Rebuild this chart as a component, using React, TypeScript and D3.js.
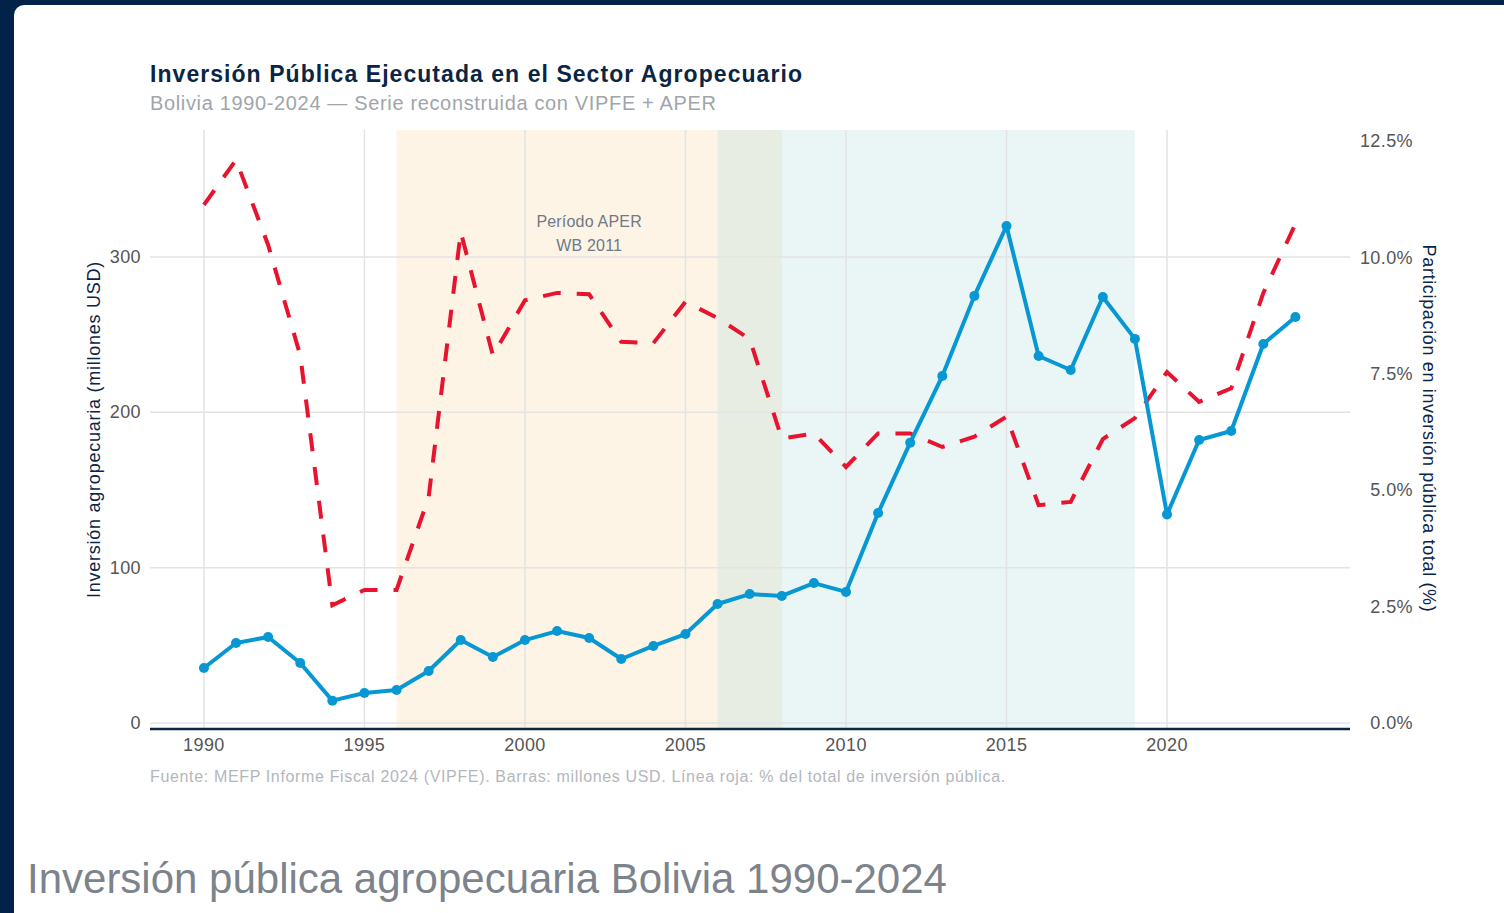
import React, { useRef, useEffect } from 'react';
import * as d3 from 'd3';

const years = d3.range(1990, 2025);

// millones USD
const investment = [
  35.4, 51.5, 55.4, 38.6, 14.4, 19.3, 21.2, 33.5, 53.4, 42.5,
  53.4, 59.2, 54.7, 41.2, 49.6, 57.3, 76.6, 83.0, 81.8, 90.1,
  84.4, 135.2, 180.5, 223.4, 275.0, 320.0, 236.3, 227.3, 274.3, 247.3,
  134.3, 182.2, 188.0, 244.0, 261.4,
];

// % de la inversión pública total
const share = [
  11.13, 12.1, 10.27, 7.9, 2.53, 2.86, 2.86, 4.85, 10.55, 7.9,
  9.08, 9.24, 9.21, 8.19, 8.16, 9.05, 8.7, 8.25, 6.11, 6.22,
  5.5, 6.22, 6.22, 5.93, 6.15, 6.58, 4.68, 4.75, 6.1, 6.55,
  7.54, 6.9, 7.19, 9.24, 10.72,
];

const xTicks = [1990, 1995, 2000, 2005, 2010, 2015, 2020];
const leftTicks = [0, 100, 200, 300];
const rightTicks = [0, 2.5, 5, 7.5, 10, 12.5];

const periods = [
  { from: 1996, to: 2008, fill: '#f9d9a6', opacity: 0.28 },
  { from: 2006, to: 2019, fill: '#b5dbe0', opacity: 0.28 },
];

const FONT = '"Liberation Sans", Arial, Helvetica, sans-serif';

const App = () => {
  const svgRef = useRef(null);

  useEffect(() => {
    const width = 1504;
    const height = 913;
    const left = 150;
    const right = 1350;
    const top = 130;
    const bottom = 723;

    const svg = d3.select(svgRef.current);
    svg.selectAll('*').remove();
    svg.attr('width', width).attr('height', height).style('font-family', FONT);

    svg.append('rect').attr('width', width).attr('height', height).attr('fill', '#03224a');
    svg.append('rect')
      .attr('x', 14).attr('y', 5).attr('width', 1600).attr('height', 1000)
      .attr('rx', 10).attr('fill', '#ffffff');

    const x = d3.scaleLinear().domain([1988.32, 2025.7]).range([left, right]);
    const y = d3.scaleLinear().domain([0, 381.8]).range([bottom, top]);
    const y2 = d3.scaleLinear().domain([0, 12.74]).range([bottom, top]);
    const axisY = bottom + 6;

    // bandas de periodos
    svg.append('g')
      .selectAll('rect')
      .data(periods)
      .join('rect')
      .attr('x', d => x(d.from))
      .attr('width', d => x(d.to) - x(d.from))
      .attr('y', top)
      .attr('height', axisY - top)
      .attr('fill', d => d.fill)
      .attr('fill-opacity', d => d.opacity);

    // grilla
    const grid = svg.append('g').attr('stroke', '#e3e3e3').attr('stroke-width', 1.5);
    grid.selectAll('line.v')
      .data(xTicks)
      .join('line')
      .attr('class', 'v')
      .attr('x1', d => x(d)).attr('x2', d => x(d))
      .attr('y1', top).attr('y2', axisY);
    grid.selectAll('line.h')
      .data(leftTicks)
      .join('line')
      .attr('class', 'h')
      .attr('x1', left).attr('x2', right)
      .attr('y1', d => y(d)).attr('y2', d => y(d));

    svg.append('line')
      .attr('x1', left).attr('x2', right)
      .attr('y1', axisY).attr('y2', axisY)
      .attr('stroke', '#0b2545').attr('stroke-width', 2.5);

    const note = svg.append('g')
      .attr('text-anchor', 'middle')
      .attr('fill', '#6e7a86').attr('font-size', 16)
      .attr('letter-spacing', 0.2);
    note.append('text').attr('x', x(2002)).attr('y', 227).text('Período APER');
    note.append('text').attr('x', x(2002)).attr('y', 251).text('WB 2011');

    // línea roja: participación
    const shareLine = d3.line()
      .x((d, i) => x(years[i]))
      .y(d => y2(d));
    svg.append('path')
      .datum(share)
      .attr('d', shareLine)
      .attr('fill', 'none')
      .attr('stroke', '#e8132e')
      .attr('stroke-width', 4)
      .attr('stroke-dasharray', '18,16');

    // línea azul: inversión
    const invLine = d3.line()
      .x((d, i) => x(years[i]))
      .y(d => y(d));
    svg.append('path')
      .datum(investment)
      .attr('d', invLine)
      .attr('fill', 'none')
      .attr('stroke', '#0798d4')
      .attr('stroke-width', 4)
      .attr('stroke-linejoin', 'round');
    svg.append('g')
      .selectAll('circle')
      .data(investment)
      .join('circle')
      .attr('cx', (d, i) => x(years[i]))
      .attr('cy', d => y(d))
      .attr('r', 5)
      .attr('fill', '#0798d4');

    // ejes
    svg.append('g')
      .selectAll('text')
      .data(xTicks)
      .join('text')
      .attr('x', d => x(d)).attr('y', 751)
      .attr('text-anchor', 'middle')
      .attr('fill', '#555').attr('font-size', 18).attr('letter-spacing', 0.4)
      .text(d => d);

    svg.append('g')
      .selectAll('text')
      .data(leftTicks)
      .join('text')
      .attr('x', 141).attr('y', d => y(d) + 6)
      .attr('text-anchor', 'end')
      .attr('fill', '#555').attr('font-size', 18).attr('letter-spacing', 0.4)
      .text(d => d);

    svg.append('g')
      .selectAll('text')
      .data(rightTicks)
      .join('text')
      .attr('x', 1413).attr('y', d => y2(d) + 6)
      .attr('text-anchor', 'end')
      .attr('fill', '#555').attr('font-size', 18).attr('letter-spacing', 0.4)
      .text(d => d3.format('.1f')(d) + '%');

    svg.append('text')
      .attr('transform', `translate(100, ${(top + bottom) / 2 + 3}) rotate(-90)`)
      .attr('text-anchor', 'middle')
      .attr('fill', '#0b2545').attr('font-size', 18).attr('letter-spacing', 0.75)
      .text('Inversión agropecuaria (millones USD)');

    svg.append('text')
      .attr('transform', `translate(1423, ${(top + bottom) / 2 + 2}) rotate(90)`)
      .attr('text-anchor', 'middle')
      .attr('fill', '#0b2545').attr('font-size', 18).attr('letter-spacing', 0.65)
      .text('Participación en inversión pública total (%)');

    // títulos
    svg.append('text')
      .attr('x', 150).attr('y', 82)
      .attr('fill', '#0b2545').attr('font-size', 23).attr('font-weight', 'bold')
      .attr('letter-spacing', 1.05)
      .text('Inversión Pública Ejecutada en el Sector Agropecuario');
    svg.append('text')
      .attr('x', 150).attr('y', 110)
      .attr('fill', '#a0a5ab').attr('font-size', 20).attr('letter-spacing', 0.65)
      .text('Bolivia 1990-2024 — Serie reconstruida con VIPFE + APER');

    svg.append('text')
      .attr('x', 150).attr('y', 782)
      .attr('fill', '#b3b7bc').attr('font-size', 16).attr('letter-spacing', 0.65)
      .text('Fuente: MEFP Informe Fiscal 2024 (VIPFE). Barras: millones USD. Línea roja: % del total de inversión pública.');

    svg.append('text')
      .attr('x', 27).attr('y', 893)
      .attr('fill', '#7d838b').attr('font-size', 42)
      .text('Inversión pública agropecuaria Bolivia 1990-2024');
  }, []);

  return (
    <div style={{ position: 'fixed', left: 0, top: 0 }}>
      <svg ref={svgRef} style={{ display: 'block' }}></svg>
    </div>
  );
};

export default App;
